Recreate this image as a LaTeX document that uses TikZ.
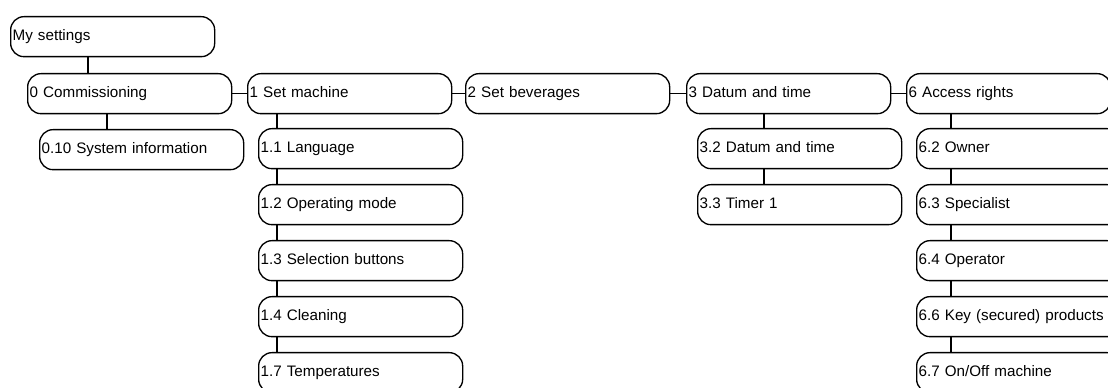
\documentclass[tikz,border=0pt]{standalone}
\usepackage{fontspec}
\setmainfont{Liberation Sans}
\begin{document}
\begin{tikzpicture}[x=0.75pt, y=-0.75pt, line width=1pt,
  menu/.style={draw, rounded corners=10pt, anchor=north west, inner xsep=1.5pt,
    text width=150pt, minimum height=30pt, align=left, text height=8.5pt,
    text depth=2.5pt, font=\fontsize{11.4}{13}\selectfont}]
  \useasboundingbox (0,0) rectangle (1108,388);
  \node[menu] (ms) at (10,16) {My settings};
  \node[menu] (c0) at (27,73) {0 Commissioning};
  \node[menu] (c010) at (39,129) {0.10 System information};
  \node[menu] (c1) at (247,73) {1 Set machine};
  \node[menu] (c11) at (258,128) {1.1 Language};
  \node[menu] (c12) at (258,184) {1.2 Operating mode};
  \node[menu] (c13) at (258,240) {1.3 Selection buttons};
  \node[menu] (c14) at (258,296) {1.4 Cleaning};
  \node[menu] (c17) at (258,352) {1.7 Temperatures};
  \node[menu] (c2) at (465,73) {2 Set beverages};
  \node[menu] (c3) at (686,73) {3 Datum and time};
  \node[menu] (c32) at (697,128) {3.2 Datum and time};
  \node[menu] (c33) at (697,184) {3.3 Timer 1};
  \node[menu] (c6) at (906,73) {6 Access rights};
  \node[menu] (c62) at (916,128) {6.2 Owner};
  \node[menu] (c63) at (916,184) {6.3 Specialist};
  \node[menu] (c64) at (916,240) {6.4 Operator};
  \node[menu] (c66) at (916,296) {6.6 Key (secured) products};
  \node[menu] (c67) at (916,352) {6.7 On/Off machine};
  \draw (c0) -- (c1);
  \draw (c1) -- (c2);
  \draw (c2) -- (c3);
  \draw (c3) -- (c6);
  \foreach \a/\b/\d in {ms/c0/61, c0/c010/68, c1/c11/19, c11/c12/19, c12/c13/19,
      c13/c14/19, c14/c17/19, c3/c32/67, c32/c33/67, c6/c62/35, c62/c63/35,
      c63/c64/35, c64/c66/35, c66/c67/35}
    \draw (\b.north west) ++(\d,0) coordinate (t) -- (t |- \a.south);
\end{tikzpicture}
\end{document}
